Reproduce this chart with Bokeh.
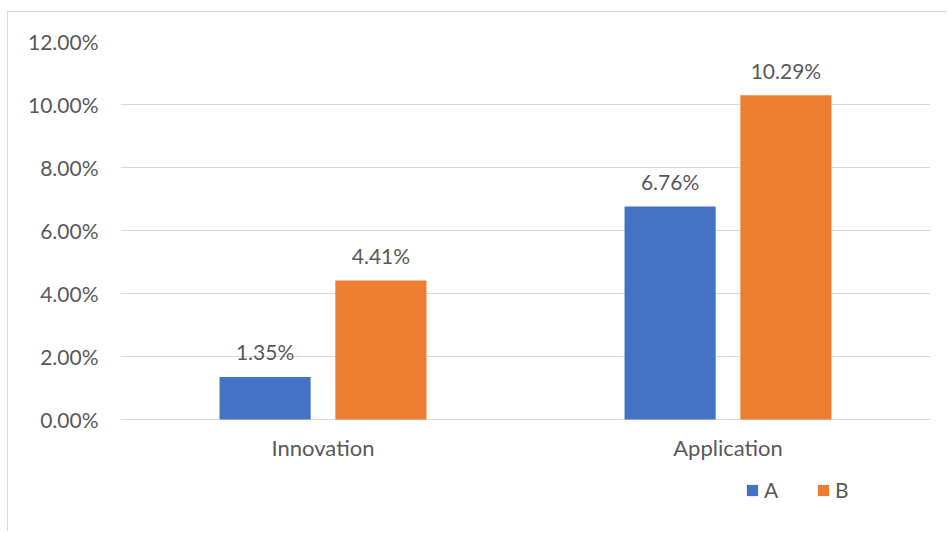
from bokeh.plotting import figure
from bokeh.models import (ColumnDataSource, Range1d, FixedTicker, NumeralTickFormatter,
                          LabelSet, Legend, LegendItem)
from bokeh.core.properties import value
from bokeh.embed import file_html
from bokeh.resources import INLINE

categories = ["Innovation", "Application"]
series_names = ["A", "B"]
series_a = [0.0135, 0.0676]
series_b = [0.0441, 0.1029]
y_ticks = [0.0, 0.02, 0.04, 0.06, 0.08, 0.10, 0.12]

COL_A = "#4472C4"
COL_B = "#ED7D31"
TXT = "#595959"
GRID = "#D9D9D9"
FONT = "Lato"

centers = [i + 0.5 for i in range(len(categories))]
off = 0.143
bw = 0.225

src_a = ColumnDataSource(dict(x=[c - off for c in centers], y=series_a,
                              lbl=[f"{v*100:.2f}%" for v in series_a]))
src_b = ColumnDataSource(dict(x=[c + off for c in centers], y=series_b,
                              lbl=[f"{v*100:.2f}%" for v in series_b]))

OX, OY = 8, 13  # canvas origin on the page (after chart border)
W, H = 948 - OX, 533 - OY
FRAME_BOTTOM = 506  # frame extended below zero line to hold the legend

p = figure(width=W, height=H, output_backend="svg", toolbar_location=None,
           x_range=Range1d(0, len(categories)), y_range=Range1d(-0.0273, 0.12),
           min_border_left=120 - OX, min_border_right=W - (930 - OX),
           min_border_top=42 - OY, min_border_bottom=H - (FRAME_BOTTOM - OY))
p.styles = {"border-left": "1.5px solid #D9D9D9", "border-top": "1.5px solid #D9D9D9",
            "margin-left": "7px", "margin-top": "11px"}
p.outline_line_color = None
p.background_fill_color = "white"
p.border_fill_color = "white"

ra = p.vbar(x="x", top="y", width=bw, source=src_a, color=COL_A, line_color=None)
rb = p.vbar(x="x", top="y", width=bw, source=src_b, color=COL_B, line_color=None)

for s in (src_a, src_b):
    p.add_layout(LabelSet(x="x", y="y", text="lbl", source=s, y_offset=25,
                          text_align="center", text_baseline="middle",
                          text_font=value(FONT), text_font_size=value("21px"),
                          text_color=TXT))

# y axis
ya = p.yaxis[0]
ya.ticker = FixedTicker(ticks=y_ticks)
ya.formatter = NumeralTickFormatter(format="0.00%")
ya.axis_line_color = None
ya.major_tick_line_color = None
ya.minor_tick_line_color = None
ya.major_label_standoff = 16
ya.major_label_text_font = FONT
ya.major_label_text_font_size = "21px"
ya.major_label_text_color = TXT

# x axis (labels pulled up to sit under the zero line)
xa = p.xaxis[0]
xa.ticker = FixedTicker(ticks=centers)
xa.major_label_overrides = {c: n for c, n in zip(centers, categories)}
xa.axis_line_color = None
xa.major_tick_line_color = None
xa.minor_tick_line_color = None
xa.major_label_standoff = -78
xa.major_label_text_font = FONT
xa.major_label_text_font_size = "22px"
xa.major_label_text_color = TXT

p.xgrid.grid_line_color = None
p.ygrid.ticker = FixedTicker(ticks=y_ticks)
p.ygrid.grid_line_color = GRID
p.ygrid.grid_line_width = 1.2

legend = Legend(items=[LegendItem(label=series_names[0], renderers=[ra]),
                       LegendItem(label=series_names[1], renderers=[rb])],
                orientation="horizontal", location=(625, 3),
                border_line_color=None, background_fill_alpha=0,
                glyph_width=14, glyph_height=14, label_standoff=5, spacing=32,
                padding=0, margin=0,
                label_text_font=FONT, label_text_font_size="21px", label_text_color=TXT)
p.add_layout(legend, "center")

open("out.html", "w").write(file_html(p, INLINE))
